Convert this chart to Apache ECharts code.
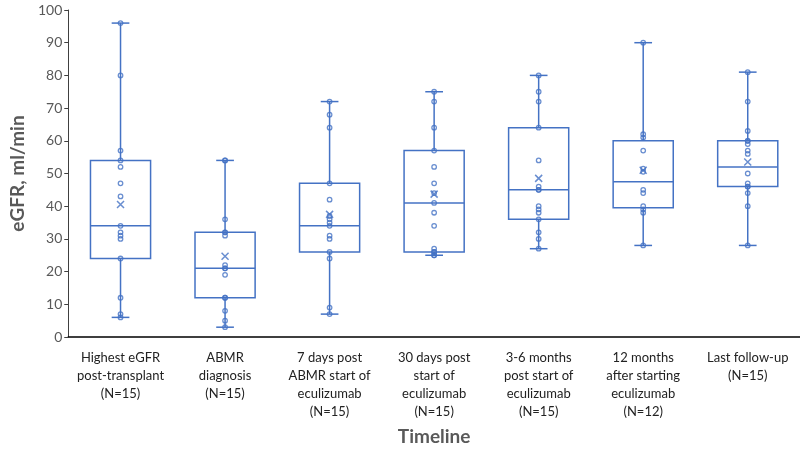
<!DOCTYPE html>
<html>
<head>
<meta charset="utf-8">
<script src="https://cdn.jsdelivr.net/npm/echarts@6/dist/echarts.min.js"></script>
<style>html,body{margin:0;padding:0;background:#fff}#c{width:800px;height:451px}</style>
</head>
<body>
<div id="c"></div>
<script>
const categories = [
  'Highest eGFR\npost-transplant\n(N=15)',
  'ABMR\ndiagnosis\n(N=15)',
  '7 days post\nABMR start of\neculizumab\n(N=15)',
  '30 days post\nstart of\neculizumab\n(N=15)',
  '3-6 months\npost start of\neculizumab\n(N=15)',
  '12 months\nafter starting\neculizumab\n(N=12)',
  'Last follow-up\n(N=15)'
];
const whiskerMin = [6, 3, 7, 25, 27, 28, 28];
const q1 = [24, 12, 26, 26, 36, 39.5, 46];
const median = [34, 21, 34, 41, 45, 47.5, 52];
const q3 = [54, 32, 47, 57, 64, 60, 60];
const whiskerMax = [96, 54, 72, 75, 80, 90, 81];
const means = [40.5, 24.7, 37.5, 43.7, 48.5, 51, 53.5];
const points = [
  [96, 80, 57, 54, 52, 47, 43, 34, 32, 31, 30, 24, 12, 7, 6],
  [54, 36, 32, 31, 22, 21, 19, 12, 12, 8, 5, 3, 21, 32, 54],
  [72, 68, 64, 47, 42, 37, 36, 35, 34, 31, 30, 26, 24, 9, 7],
  [75, 72, 64, 57, 52, 47, 44, 41, 38, 34, 27, 26, 25, 25, 26],
  [80, 75, 72, 64, 54, 46, 45, 40, 39, 38, 36, 32, 30, 27, 45],
  [90, 62, 61, 57, 51.5, 50.5, 45, 44, 40, 39, 38, 28],
  [81, 72, 63, 60, 59, 57, 56, 50, 47, 46, 44, 40, 28, 60, 46]
];

const BLUE = '#4472C4';
const FONT = 'Lato';

const boxData = categories.map((c, i) => [i, whiskerMin[i], q1[i], median[i], q3[i], whiskerMax[i]]);
const pointData = [];
points.forEach((arr, i) => arr.forEach(v => pointData.push([i, v])));
const meanData = means.map((m, i) => [i, m]);

const chart = echarts.init(document.getElementById('c'), null, {renderer: 'canvas'});
chart.setOption({
  animation: false,
  backgroundColor: '#fff',
  grid: {left: 58, right: 0, top: 10, bottom: 114, containLabel: false},
  xAxis: {
    type: 'category',
    data: categories,
    boundaryGap: true,
    axisLine: {show: true, lineStyle: {color: '#000', width: 1.5}},
    axisTick: {show: false},
    axisLabel: {color: '#222', fontFamily: FONT, fontSize: 13, lineHeight: 18, margin: 12, interval: 0},
    name: 'Timeline',
    nameLocation: 'middle',
    nameGap: 90,
    nameTextStyle: {color: '#595959', fontFamily: FONT, fontSize: 19, fontWeight: 'bold'}
  },
  yAxis: {
    type: 'value',
    min: 0, max: 100, interval: 10,
    axisLine: {show: true, lineStyle: {color: '#404040', width: 1}},
    axisTick: {show: true, length: 4, lineStyle: {color: '#404040'}},
    splitLine: {show: false},
    axisLabel: {color: '#595959', fontFamily: FONT, fontSize: 14, margin: 6},
    name: 'eGFR, ml/min',
    nameLocation: 'middle',
    nameGap: 32,
    nameTextStyle: {color: '#595959', fontFamily: FONT, fontSize: 19, fontWeight: 'bold'}
  },
  series: [
    {
      type: 'custom',
      data: boxData,
      z: 2,
      renderItem: function (params, api) {
        const idx = api.value(0);
        const band = api.size([1, 0])[0];
        const bw = band * 0.575;
        const cw = 17.7;
        const pMin = api.coord([idx, api.value(1)]);
        const pQ1 = api.coord([idx, api.value(2)]);
        const pMed = api.coord([idx, api.value(3)]);
        const pQ3 = api.coord([idx, api.value(4)]);
        const pMax = api.coord([idx, api.value(5)]);
        const x = pMin[0];
        const st = {stroke: BLUE, lineWidth: 1.5, fill: null};
        return {
          type: 'group',
          children: [
            {type: 'line', shape: {x1: x, y1: pMax[1], x2: x, y2: pQ3[1]}, style: st},
            {type: 'line', shape: {x1: x, y1: pQ1[1], x2: x, y2: pMin[1]}, style: st},
            {type: 'line', shape: {x1: x - cw / 2, y1: pMax[1], x2: x + cw / 2, y2: pMax[1]}, style: st},
            {type: 'line', shape: {x1: x - cw / 2, y1: pMin[1], x2: x + cw / 2, y2: pMin[1]}, style: st},
            {type: 'rect', shape: {x: x - bw / 2, y: pQ3[1], width: bw, height: pQ1[1] - pQ3[1]}, style: st},
            {type: 'line', shape: {x1: x - bw / 2, y1: pMed[1], x2: x + bw / 2, y2: pMed[1]}, style: st}
          ]
        };
      }
    },
    {
      type: 'scatter',
      data: pointData,
      z: 3,
      symbol: 'circle',
      symbolSize: 4.5,
      itemStyle: {color: 'rgba(255,255,255,0)', borderColor: BLUE, borderWidth: 1.3}
    },
    {
      type: 'scatter',
      data: meanData,
      z: 4,
      symbol: 'path://M0,0 L10,10 M10,0 L0,10',
      symbolSize: 7,
      itemStyle: {color: 'rgba(0,0,0,0)', borderColor: BLUE, borderWidth: 1.5}
    }
  ]
});
</script>
</body>
</html>
